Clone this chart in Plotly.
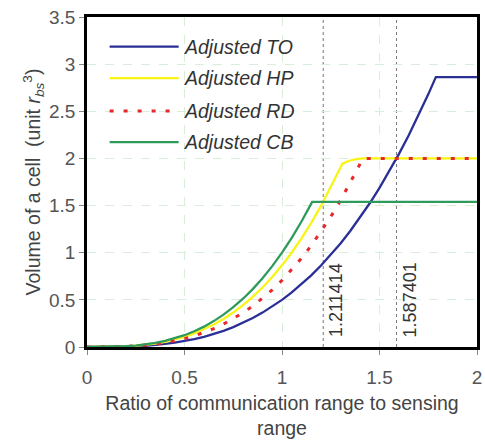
import plotly.graph_objects as go

# ---- data ----
cb_x = [0, 0.05, 0.1, 0.15, 0.2, 0.25, 0.3, 0.35, 0.4, 0.45, 0.5, 0.55, 0.6, 0.65, 0.7, 0.75, 0.8, 0.85,
        0.9, 0.95, 1.0, 1.05, 1.1, 1.15, 1.1547, 2.0]
cb_y = [0, 0.0001, 0.001, 0.0034, 0.008, 0.0156, 0.027, 0.0429, 0.064, 0.0911, 0.125, 0.1664, 0.216,
        0.2746, 0.343, 0.4219, 0.512, 0.6141, 0.729, 0.8574, 1.0, 1.1576, 1.331, 1.5209, 1.5396, 1.5396]

hp_x = [0, 0.05, 0.1, 0.15, 0.2, 0.25, 0.3, 0.35, 0.4, 0.45, 0.5, 0.55, 0.6, 0.65, 0.7, 0.75, 0.8, 0.85,
        0.9, 0.95, 1.0, 1.05, 1.1, 1.15, 1.2, 1.25, 1.3, 1.3093, 1.35, 1.38, 1.4142, 2.0]
hp_y = [0, 0.0001, 0.0009, 0.0029, 0.0069, 0.0135, 0.0234, 0.0371, 0.0554, 0.0789, 0.1083, 0.1441,
        0.1871, 0.2378, 0.2970, 0.3653, 0.4434, 0.5318, 0.6313, 0.7425, 0.866, 1.0025, 1.1526, 1.3171,
        1.4965, 1.6914, 1.9026, 1.9437, 1.978, 1.993, 2.0, 2.0]

rd_x = [0, 0.05, 0.1, 0.15, 0.2, 0.25, 0.3, 0.35, 0.4, 0.45, 0.5, 0.55, 0.6, 0.65, 0.7, 0.75, 0.8, 0.85,
        0.9, 0.95, 1.0, 1.05, 1.1, 1.15, 1.2, 1.25, 1.3, 1.35, 1.4, 1.4142, 2.0]
rd_y = [0, 0.0001, 0.0007, 0.0024, 0.0057, 0.011, 0.0191, 0.0303, 0.0453, 0.0644, 0.0884, 0.1176,
        0.1527, 0.1942, 0.2425, 0.2983, 0.362, 0.4342, 0.5155, 0.6062, 0.7071, 0.8186, 0.9412, 1.0754,
        1.2219, 1.3811, 1.5535, 1.7397, 1.9403, 2.0, 2.0]

to_x = [0, 0.05, 0.1, 0.15, 0.2, 0.25, 0.3, 0.35, 0.4, 0.45, 0.5, 0.55, 0.6, 0.65, 0.7, 0.75, 0.8, 0.85,
        0.9, 0.95, 1.0, 1.05, 1.1, 1.15, 1.2, 1.25, 1.3, 1.35, 1.4, 1.45, 1.5, 1.55, 1.6, 1.65, 1.7,
        1.75, 1.7889, 2.0]
to_y = [0, 0.0001, 0.0005, 0.0017, 0.004, 0.0078, 0.0135, 0.0214, 0.032, 0.0456, 0.0625, 0.0832, 0.108,
        0.1373, 0.1715, 0.2109, 0.256, 0.3071, 0.3645, 0.4287, 0.5, 0.5788, 0.6655, 0.7604, 0.864,
        0.9766, 1.0985, 1.2302, 1.372, 1.5243, 1.6875, 1.8619, 2.048, 2.2461, 2.4565, 2.6797, 2.862, 2.862]

series_names = ["Adjusted TO", "Adjusted HP", "Adjusted RD", "Adjusted CB"]
marker_x = [1.211414, 1.587401]
marker_labels = ["1.211414", "1.587401"]
x_ticks = [0, 0.5, 1, 1.5, 2]
x_tick_labels = ["0", "0.5", "1", "1.5", "2"]
y_ticks = [0, 0.5, 1, 1.5, 2, 2.5, 3, 3.5]
y_tick_labels = ["0", "0.5", "1", "1.5", "2", "2.5", "3", "3.5"]

colors = ["#2a2f95", "#f8f414", "#e8262b", "#2f9a5c"]
dashes = ["solid", "solid", "4px,10px", "solid"]
widths = [2.3, 2.3, 3, 2.3]

FONT = "Liberation Sans, Arial, sans-serif"

fig = go.Figure()
all_x = [to_x, hp_x, rd_x, cb_x]
all_y = [to_y, hp_y, rd_y, cb_y]
for name, xs, ys, c, d, w in zip(series_names, all_x, all_y, colors, dashes, widths):
    fig.add_trace(go.Scatter(x=xs, y=ys, mode="lines", name=name,
                             line=dict(color=c, dash=d, width=w), showlegend=False))

shapes = []
annotations = []
for mx, lab in zip(marker_x, marker_labels):
    shapes.append(dict(type="line", xref="x", yref="paper", x0=mx, x1=mx, y0=0, y1=1,
                       line=dict(color="#777777", width=1, dash="dot"), layer="below"))
    annotations.append(dict(x=mx, y=0.50, xref="x", yref="y", text=lab, textangle=-90,
                            showarrow=False, xanchor="center", yanchor="middle", xshift=13,
                            font=dict(family=FONT, size=18, color="#333333")))

# manual legend (long line samples as in the reference)
leg_rows = [0.910, 0.815, 0.715, 0.621]
for name, c, d, w, yy in zip(series_names, colors, dashes, widths, leg_rows):
    shapes.append(dict(type="line", xref="paper", yref="paper", x0=0.058, x1=0.235, y0=yy, y1=yy,
                       line=dict(color=c, width=w, dash=d)))
    annotations.append(dict(x=0.243, y=yy, xref="paper", yref="paper", text="<i>" + name + "</i>",
                            showarrow=False, xanchor="left", yanchor="middle",
                            font=dict(family=FONT, size=19.5, color="#333333")))

fig.update_layout(
    width=485, height=442,
    margin=dict(l=87, r=3, t=17, b=95),
    paper_bgcolor="white", plot_bgcolor="white",
    font=dict(family=FONT, size=19, color="#444444"),
    shapes=shapes, annotations=annotations,
    xaxis=dict(range=[0, 2], tickvals=x_ticks, ticktext=x_tick_labels,
               showline=True, linecolor="black", linewidth=2.5, mirror=True,
               ticks="outside", ticklen=5, tickcolor="#888888", ticklabelstandoff=6,
               showgrid=True, gridcolor="#d8eed8", griddash="dash", gridwidth=1,
               zeroline=False,
               title=dict(text="Ratio of communication range to sensing<br>range",
                          font=dict(family=FONT, size=19.5, color="#444444"), standoff=10),
               tickfont=dict(family=FONT, size=19, color="#555555")),
    yaxis=dict(range=[0, 3.5], tickvals=y_ticks, ticktext=y_tick_labels,
               showline=True, linecolor="black", linewidth=2.5, mirror=True,
               ticks="outside", ticklen=5, tickcolor="#888888",
               showgrid=True, gridcolor="#d8eed8", griddash="dash", gridwidth=1,
               zeroline=False,
               title=dict(text="Volume of a cell  (unit <i>r</i><sub><i>bs</i></sub><sup>3</sup>)",
                          font=dict(family=FONT, size=19.5, color="#444444"), standoff=4),
               tickfont=dict(family=FONT, size=19, color="#555555")),
)

fig.write_html("out.html")
